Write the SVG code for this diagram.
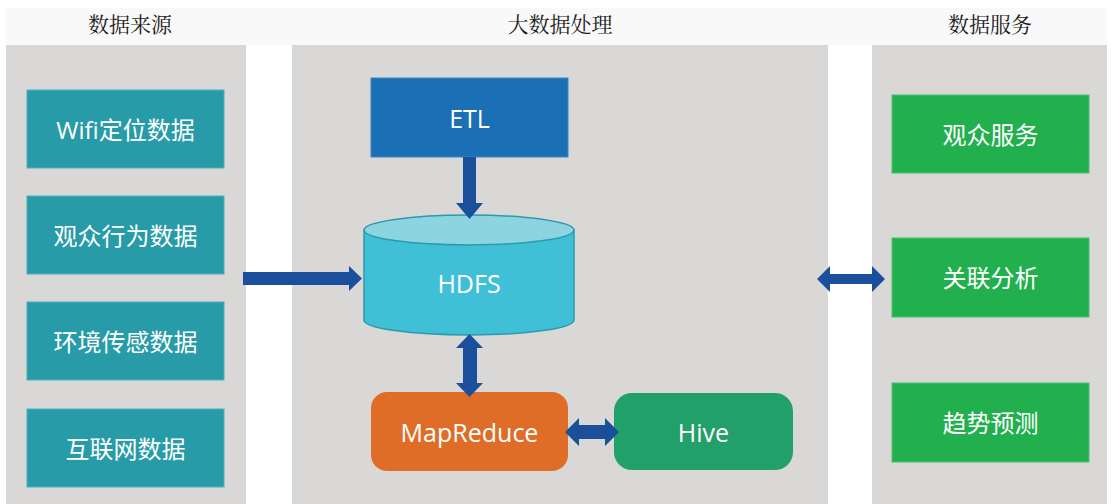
<svg xmlns="http://www.w3.org/2000/svg" width="1111" height="504" viewBox="0 0 1111 504">
<style>
.panel{fill:#d9d8d6}
.title{font-family:"Liberation Serif","Noto Serif CJK SC","Noto Sans CJK SC",serif;font-size:21px;fill:#1a1a1a;text-anchor:middle}
.lbl{font-family:"Open Sans","Noto Sans CJK SC",sans-serif;font-size:24px;fill:#ffffff;text-anchor:middle;dominant-baseline:central}
.en{font-size:25px}
.src{fill:#279ba8;stroke:#4fb0bc;stroke-width:1}
.svc{fill:#22b04f;stroke:#4cc070;stroke-width:1}
.arrow{fill:#1a4f9c}
</style>
<rect x="0" y="0" width="1111" height="504" fill="#ffffff"/>
<rect x="6" y="8" width="1101" height="37" fill="#f9f9f9"/>
<rect class="panel" x="6" y="45" width="240" height="459"/>
<rect class="panel" x="292" y="45" width="536" height="459"/>
<rect class="panel" x="872" y="45" width="235" height="459"/>
<text class="title" x="130" y="32">数据来源</text>
<text class="title" x="560" y="32">大数据处理</text>
<text class="title" x="990" y="32">数据服务</text>

<g id="wifi"><rect class="src" x="27" y="90" width="197" height="78"/><text class="lbl" x="125.5" y="129">Wifi定位数据</text></g>
<g id="audience"><rect class="src" x="27" y="196" width="197" height="78"/><text class="lbl" x="125.5" y="235">观众行为数据</text></g>
<g id="env"><rect class="src" x="27" y="302" width="197" height="78"/><text class="lbl" x="125.5" y="341">环境传感数据</text></g>
<g id="internet"><rect class="src" x="27" y="409" width="197" height="78"/><text class="lbl" x="125.5" y="448">互联网数据</text></g>

<g id="etl"><rect x="371" y="78" width="197" height="79" fill="#1a6fb5" stroke="#3a86c4" stroke-width="1"/><text class="lbl en" x="469.5" y="117.5">ETL</text></g>
<g id="hdfs">
<path d="M364,230 L364,320 A105,15 0 0 0 574,320 L574,230 Z" fill="#3fc0d6" stroke="#2a9aae" stroke-width="1.5"/>
<ellipse cx="469" cy="230" rx="105" ry="15" fill="#8dd4e1" stroke="#2a9aae" stroke-width="1.5"/>
<text class="lbl en" x="469" y="283">HDFS</text>
</g>
<g id="mapreduce"><rect x="371" y="392" width="197" height="79" rx="16" fill="#e06d27"/><text class="lbl en" x="469.5" y="431.5">MapReduce</text></g>
<g id="hive"><rect x="614" y="393" width="179" height="77" rx="18" fill="#21a06a"/><text class="lbl en" x="703.5" y="431.5">Hive</text></g>

<g id="viewer-service"><rect class="svc" x="892" y="95" width="197" height="78"/><text class="lbl" x="990.5" y="134">观众服务</text></g>
<g id="correlation"><rect class="svc" x="892" y="238" width="197" height="79"/><text class="lbl" x="990.5" y="277.5">关联分析</text></g>
<g id="trend"><rect class="svc" x="892" y="383" width="197" height="79"/><text class="lbl" x="990.5" y="422.5">趋势预测</text></g>

<g id="connectors">
<polygon class="arrow" points="243,272 349,272 349,266 362,278.5 349,291 349,285 243,285"/>
<polygon class="arrow" points="463,157 476,157 476,203 483,203 469.5,219 456,203 463,203"/>
<polygon class="arrow" points="469.5,334 483,348 477,348 477,383 483,383 469.5,397 456,383 463,383 463,348 456,348"/>
<polygon class="arrow" points="565,432 579,418 579,425 605,425 605,418 619,432 605,446 605,439 579,439 579,446"/>
<polygon class="arrow" points="817,279 830,266 830,274 872,274 872,266 885,279 872,292 872,284 830,284 830,292"/>
</g>
</svg>
